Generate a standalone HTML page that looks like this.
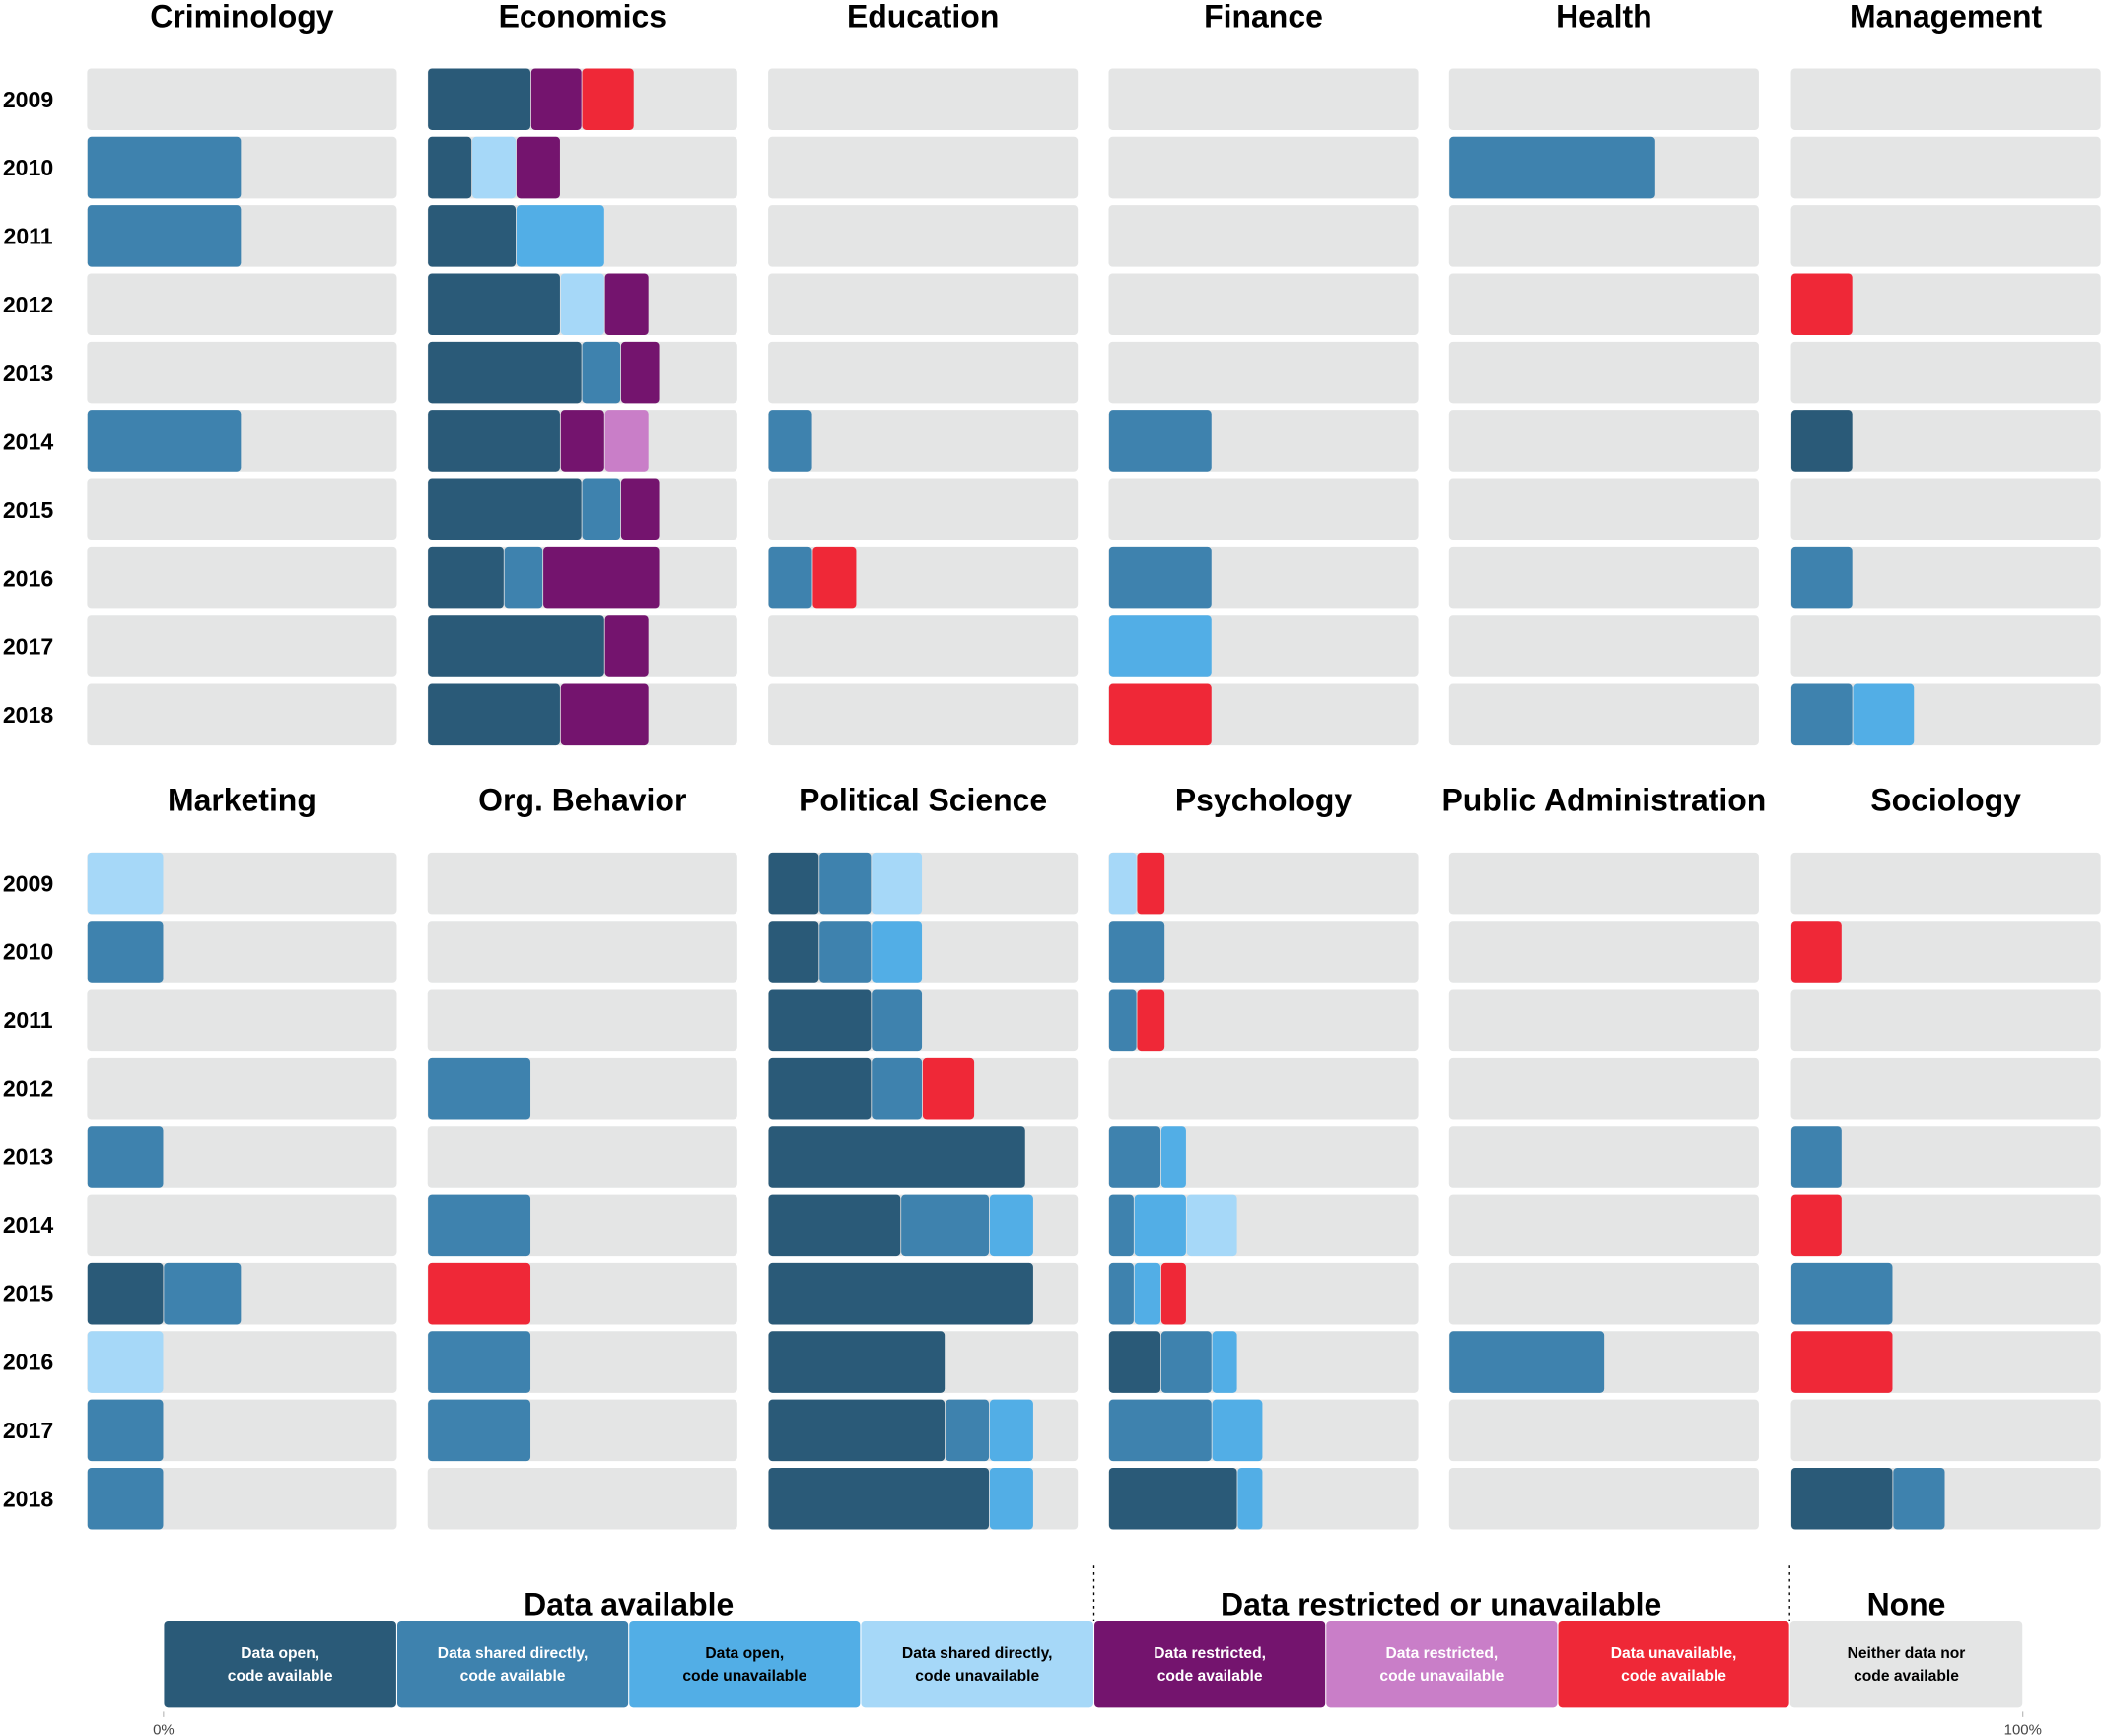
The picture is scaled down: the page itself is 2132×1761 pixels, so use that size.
<!DOCTYPE html>
<html><head><meta charset="utf-8"><style>
html,body{margin:0;padding:0;background:#fff;}
svg{display:block;font-family:"Liberation Sans",Arial,sans-serif;}
</style></head><body>
<svg id="s" width="2132" height="1761" viewBox="0 0 1568 1295" xmlns="http://www.w3.org/2000/svg"></svg>
<script>
var C={1:"#2a5a78",2:"#3e82ae",3:"#52aee6",4:"#a6d8f8",5:"#74146e",6:"#c97ec8",7:"#ef2837",0:"#e4e5e5"};
var s="";
var cols=[65,319,573,827,1081,1336],W=231,H=46;
var titles=[["Criminology","Economics","Education","Finance","Health","Management"],["Marketing","Org. Behavior","Political Science","Psychology","Public Administration","Sociology"]];
var tops=[51,636],tY=[20,605];
var D=[
[ // top
 {1:[[2,65,180]],2:[[2,65,180]],5:[[2,65,180]]},
 {0:[[1,319,396],[5,396,434],[7,434,473]],1:[[1,319,352],[4,352,385],[5,385,418]],2:[[1,319,385],[3,385,451]],3:[[1,319,418],[4,418,451],[5,451,484]],4:[[1,319,434],[2,434,463],[5,463,492]],5:[[1,319,418],[5,418,451],[6,451,484]],6:[[1,319,434],[2,434,463],[5,463,492]],7:[[1,319,376],[2,376,405],[5,405,492]],8:[[1,319,451],[5,451,484]],9:[[1,319,418],[5,418,484]]},
 {5:[[2,573,606]],7:[[2,573,606],[7,606,639]]},
 {5:[[2,827,904]],7:[[2,827,904]],8:[[3,827,904]],9:[[7,827,904]]},
 {1:[[2,1081,1235]]},
 {3:[[7,1336,1382]],5:[[1,1336,1382]],7:[[2,1336,1382]],9:[[2,1336,1382],[3,1382,1428]]}
],[
 {0:[[4,65,122]],1:[[2,65,122]],4:[[2,65,122]],6:[[1,65,122],[2,122,180]],7:[[4,65,122]],8:[[2,65,122]],9:[[2,65,122]]},
 {3:[[2,319,396]],5:[[2,319,396]],6:[[7,319,396]],7:[[2,319,396]],8:[[2,319,396]]},
 {0:[[1,573,611],[2,611,650],[4,650,688]],1:[[1,573,611],[2,611,650],[3,650,688]],2:[[1,573,650],[2,650,688]],3:[[1,573,650],[2,650,688],[7,688,727]],4:[[1,573,765]],5:[[1,573,672],[2,672,738],[3,738,771]],6:[[1,573,771]],7:[[1,573,705]],8:[[1,573,705],[2,705,738],[3,738,771]],9:[[1,573,738],[3,738,771]]},
 {0:[[4,827,848],[7,848,869]],1:[[2,827,869]],2:[[2,827,848],[7,848,869]],4:[[2,827,866],[3,866,885]],5:[[2,827,846],[3,846,885],[4,885,923]],6:[[2,827,846],[3,846,866],[7,866,885]],7:[[1,827,866],[2,866,904],[3,904,923]],8:[[2,827,904],[3,904,942]],9:[[1,827,923],[3,923,942]]},
 {7:[[2,1081,1197]]},
 {1:[[7,1336,1374]],4:[[2,1336,1374]],5:[[7,1336,1374]],6:[[2,1336,1412]],7:[[7,1336,1412]],9:[[1,1336,1412],[2,1412,1451]]}
]];
for(var sec=0;sec<2;sec++){
 for(var c=0;c<6;c++){
  var x0=cols[c];
  s+='<text x="'+(x0+W/2)+'" y="'+tY[sec]+'" text-anchor="middle" font-size="23.5" font-weight="bold">'+titles[sec][c]+'</text>';
  for(var r=0;r<10;r++){
   var y=tops[sec]+r*51;
   s+='<rect x="'+x0+'" y="'+y+'" width="'+W+'" height="'+H+'" rx="3" fill="'+C[0]+'"/>';
   var segs=D[sec][c][r]||[];
   for(var k=0;k<segs.length;k++){var g=segs[k];
    s+='<rect x="'+(g[1]+0.3)+'" y="'+y+'" width="'+(g[2]-g[1]-0.6)+'" height="'+H+'" rx="3" fill="'+C[g[0]]+'"/>';}
   if(c==0) s+='<text x="21" y="'+(y+29)+'" text-anchor="middle" font-size="17" font-weight="bold">'+(2009+r)+'</text>';
  }
 }
}
// legend
var L=[[1,"Data open,","code available","#fff"],[2,"Data shared directly,","code available","#fff"],[3,"Data open,","code unavailable","#000"],[4,"Data shared directly,","code unavailable","#000"],[5,"Data restricted,","code available","#fff"],[6,"Data restricted,","code unavailable","#fff"],[7,"Data unavailable,","code available","#fff"],[0,"Neither data nor","code available","#000"]];
var lx=[122,296,469,642,816,989,1162,1335,1509];
for(var i=0;i<8;i++){
 var a=lx[i],b=lx[i+1];
 s+='<rect x="'+(a+0.4)+'" y="1209" width="'+(b-a-0.8)+'" height="65" rx="3" fill="'+C[L[i][0]]+'"/>';
 s+='<text x="'+((a+b)/2)+'" y="1237" text-anchor="middle" font-size="11.5" font-weight="bold" fill="'+L[i][3]+'">'+L[i][1]+'</text>';
 s+='<text x="'+((a+b)/2)+'" y="1254" text-anchor="middle" font-size="11.5" font-weight="bold" fill="'+L[i][3]+'">'+L[i][2]+'</text>';
}
s+='<text x="469" y="1205" text-anchor="middle" font-size="23.5" font-weight="bold">Data available</text>';
s+='<text x="1075" y="1205" text-anchor="middle" font-size="23.5" font-weight="bold">Data restricted or unavailable</text>';
s+='<text x="1422" y="1205" text-anchor="middle" font-size="23.5" font-weight="bold">None</text>';
s+='<line x1="816" y1="1168" x2="816" y2="1209" stroke="#000" stroke-width="1" stroke-dasharray="2,3"/>';
s+='<line x1="1335" y1="1168" x2="1335" y2="1209" stroke="#000" stroke-width="1" stroke-dasharray="2,3"/>';
s+='<line x1="122" y1="1277" x2="122" y2="1281" stroke="#999" stroke-width="0.6"/>';
s+='<line x1="1509" y1="1277" x2="1509" y2="1281" stroke="#999" stroke-width="0.6"/>';
s+='<text x="122" y="1294" text-anchor="middle" font-size="11" fill="#444">0%</text>';
s+='<text x="1509" y="1294" text-anchor="middle" font-size="11" fill="#444">100%</text>';
document.getElementById("s").innerHTML=s;
</script>
</body></html>
